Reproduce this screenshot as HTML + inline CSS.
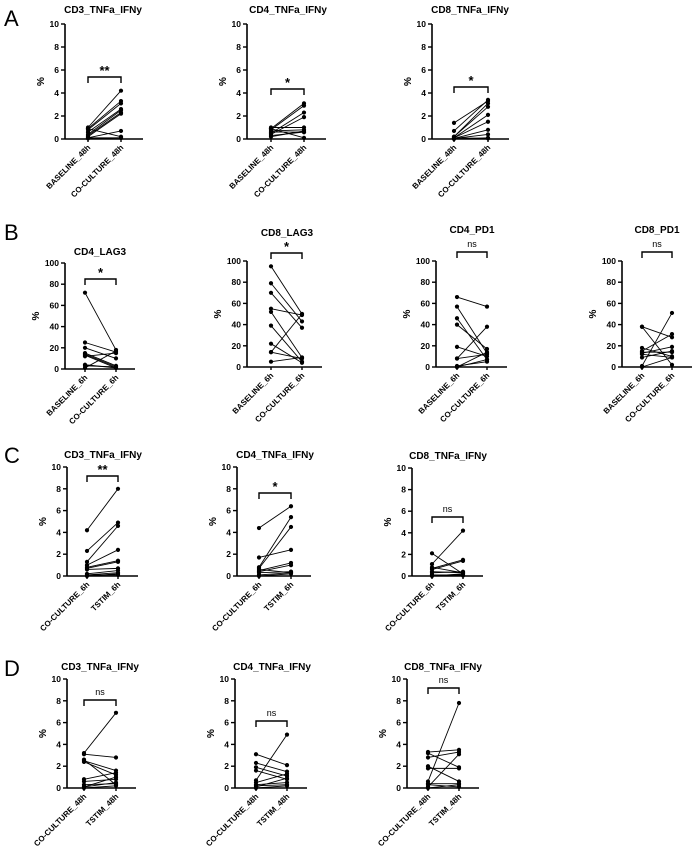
<!DOCTYPE html>
<html><head><meta charset="utf-8"><style>
html,body{margin:0;padding:0;background:#fff;}
svg{display:block;font-family:"Liberation Sans",Arial,sans-serif;}
.t{font-weight:bold;font-size:10px;}
.tk{font-weight:bold;font-size:8.5px;}
.yt{font-weight:bold;font-size:10px;}
.xl{font-weight:bold;font-size:8px;}
.lt{font-size:22px;}
</style></head><body>
<svg id="fig" width="694" height="850" viewBox="0 0 694 850"></svg>
<script>
const a1Before=[1.0,0.9,0.8,0.6,0.4,0.3,0.2,0.1,0.1,0.9,0.05];
const a1After=[4.2,3.3,3.1,2.6,2.5,2.3,2.2,0.7,0.1,0.2,0.1];
const a2Before=[0.9,0.8,0.5,0.4,1.0,0.7,0.3,0.2,0.9,0.6];
const a2After=[3.1,2.9,2.3,1.9,1.0,0.8,0.6,0.7,0.1,0.6];
const a3Before=[1.4,0.7,0.2,0.2,0.1,0.1,0.05,0.05,0,0.1];
const a3After=[3.3,3.4,3.1,2.8,2.1,1.5,0.8,0.4,0.1,0.05];
const b1Before=[72,25,20,15,14,13,12,4,3,1];
const b1After=[18,16,10,3,2,1,15,1,2,17];
const b2Before=[95,79,70,55,52,39,22,14,14,5];
const b2After=[50,43,37,49,9,5,4,50,8,9];
const b3Before=[66,57,46,40,19,8,8,0,1,0];
const b3After=[57,13,7,17,10,38,12,14,5,7];
const b4Before=[38,38,18,15,14,13,12,9,1,0];
const b4After=[28,2,10,31,14,19,9,15,51,9];
const c1Before=[4.2,2.3,1.3,1.0,0.8,0.7,0.6,0.1,0.1,0.2,0];
const c1After=[8.0,4.9,4.6,2.4,1.4,1.3,0.7,0.3,0.1,0.5,0.2];
const c2Before=[4.4,1.7,0.8,0.7,0.5,0.4,0.3,0.1,0,0.6];
const c2After=[6.4,2.4,5.4,4.5,1.2,1.0,0.4,0.3,0.2,0.3];
const c3Before=[2.1,1.1,0.7,0.6,0.4,0.3,0.1,0,0.1,0.8];
const c3After=[0.2,4.2,1.5,1.4,0.3,0.4,0.1,0.2,0.05,0.3];
const d1Before=[3.2,3.1,2.5,2.4,0.8,0.6,0.3,0.1,0,0.1,2.6];
const d1After=[6.9,2.8,1.6,1.2,1.4,0.8,0.4,1.0,0.2,0.5,0.3];
const d2Before=[3.1,2.3,1.9,1.6,0.7,0.5,0.3,0.1,0,0.2];
const d2After=[2.1,1.5,1.1,0.8,4.9,1.3,0.5,0.9,0.2,0.3];
const d3Before=[3.3,3.2,2.8,2.0,1.8,0.6,0.4,0.1,0,0.3];
const d3After=[3.5,1.9,3.3,0.6,1.8,7.8,0.4,3.1,0.3,0.1];
const ticks10=[0,2,4,6,8,10];
const ticks100=[0,20,40,60,80,100];
const sig=["**","*","*","*","*","ns","ns","**","*","ns","ns","ns","ns"];
const titles=["CD3_TNFa_IFNy","CD4_TNFa_IFNy","CD8_TNFa_IFNy","CD4_LAG3","CD8_LAG3","CD4_PD1","CD8_PD1","CD3_TNFa_IFNy","CD4_TNFa_IFNy","CD8_TNFa_IFNy","CD3_TNFa_IFNy","CD4_TNFa_IFNy","CD8_TNFa_IFNy"];
const xlabA=["BASELINE_48h","CO-CULTURE_48h"],xlabB=["BASELINE_6h","CO-CULTURE_6h"],xlabC=["CO-CULTURE_6h","TSTIM_6h"],xlabD=["CO-CULTURE_48h","TSTIM_48h"];

const L=[
 {id:"a1",b:a1Before,a:a1After,tk:ticks10,max:10,ax:65,p1:88,p2:121,end:143,yt:24,y0:139,tx:103,ty:9,br:77,xl:xlabA},
 {id:"a2",b:a2Before,a:a2After,tk:ticks10,max:10,ax:247,p1:271,p2:304,end:326,yt:24,y0:139,tx:288,ty:9,br:89,xl:xlabA},
 {id:"a3",b:a3Before,a:a3After,tk:ticks10,max:10,ax:432,p1:454,p2:488,end:509,yt:24,y0:139,tx:470,ty:9,br:87,xl:xlabA},
 {id:"b1",b:b1Before,a:b1After,tk:ticks100,max:100,ax:65,p1:85,p2:116,end:135,yt:263,y0:369,tx:100,ty:251,br:279,xl:xlabB},
 {id:"b2",b:b2Before,a:b2After,tk:ticks100,max:100,ax:247,p1:271,p2:302,end:322,yt:261,y0:367,tx:287,ty:232,br:253,xl:xlabB},
 {id:"b3",b:b3Before,a:b3After,tk:ticks100,max:100,ax:436,p1:457,p2:487,end:507,yt:261,y0:367,tx:472,ty:229,br:252,xl:xlabB},
 {id:"b4",b:b4Before,a:b4After,tk:ticks100,max:100,ax:622,p1:642,p2:672,end:692,yt:261,y0:367,tx:657,ty:229,br:252,xl:xlabB},
 {id:"c1",b:c1Before,a:c1After,tk:ticks10,max:10,ax:67,p1:87,p2:118,end:138,yt:467,y0:576,tx:103,ty:454,br:476,xl:xlabC},
 {id:"c2",b:c2Before,a:c2After,tk:ticks10,max:10,ax:237,p1:259,p2:291,end:311,yt:467,y0:576,tx:275,ty:454,br:493,xl:xlabC},
 {id:"c3",b:c3Before,a:c3After,tk:ticks10,max:10,ax:412,p1:432,p2:463,end:483,yt:468,y0:576,tx:448,ty:455,br:517,xl:xlabC},
 {id:"d1",b:d1Before,a:d1After,tk:ticks10,max:10,ax:67,p1:84,p2:116,end:136,yt:679,y0:788,tx:100,ty:666,br:700,xl:xlabD},
 {id:"d2",b:d2Before,a:d2After,tk:ticks10,max:10,ax:235,p1:256,p2:287,end:307,yt:679,y0:788,tx:272,ty:666,br:721,xl:xlabD},
 {id:"d3",b:d3Before,a:d3After,tk:ticks10,max:10,ax:407,p1:428,p2:459,end:479,yt:679,y0:788,tx:443,ty:666,br:688,xl:xlabD}
];
const NS="http://www.w3.org/2000/svg";
const svg=document.getElementById("fig");
function mk(tag,at,parent,txt){const e=document.createElementNS(NS,tag);for(const k in at)e.setAttribute(k,at[k]);if(txt!==undefined)e.textContent=txt;(parent||svg).appendChild(e);return e;}

[["A",18],["B",232],["C",455],["D",668]].forEach(([l,y])=>{
  const t=mk("text",{x:4,y:y+8,class:"lt"},svg,l);
  
  
});

L.forEach((p,i)=>{
  const g=mk("g",{});
  
  
  const ys=v=>p.y0-(v/p.max)*(p.y0-p.yt);
  const t=mk("text",{x:p.tx,y:p.ty+4,"text-anchor":"middle",class:"t"},g,titles[i]);
  
  
  const ya=mk("line",{x1:p.ax,y1:p.yt,x2:p.ax,y2:p.y0,stroke:"#000","stroke-width":1.6},g);
  
  
  p.tk.forEach(v=>{
    mk("line",{x1:p.ax-4,y1:ys(v),x2:p.ax,y2:ys(v),stroke:"#000","stroke-width":1.4},g);
    const tl=mk("text",{x:p.ax-6,y:ys(v)+3,"text-anchor":"end",class:"tk"},g,String(v));
    
    
  });
  const yl=mk("text",{x:0,y:0,"text-anchor":"middle",class:"yt",transform:`translate(${p.ax-(p.max===100?26:21)},${(p.yt+p.y0)/2}) rotate(-90)`},g,"%");
  
  
  const xa=mk("line",{x1:p.ax,y1:p.y0,x2:p.end,y2:p.y0,stroke:"#000","stroke-width":1.6},g);
  
  
  [p.p1,p.p2].forEach((x,j)=>{
    mk("line",{x1:x,y1:p.y0,x2:x,y2:p.y0+3,stroke:"#000","stroke-width":1.4},g);
    const xl=mk("text",{x:0,y:0,"text-anchor":"end",class:"xl",transform:`translate(${x+3},${p.y0+9}) rotate(-45)`},g,p.xl[j]);
    
    
  });
  p.b.forEach((v,k)=>{
    const ln=mk("line",{x1:p.p1,y1:ys(v),x2:p.p2,y2:ys(p.a[k]),stroke:"#000","stroke-width":0.9},g);
    
    
    const c1=mk("circle",{cx:p.p1,cy:ys(v),r:2.1,fill:"#000"},g);
    
    
    const c2=mk("circle",{cx:p.p2,cy:ys(p.a[k]),r:2.1,fill:"#000"},g);
    
    
  });
  const br=mk("path",{d:`M${p.p1},${p.br+6}V${p.br}H${p.p2}V${p.br+6}`,fill:"none",stroke:"#000","stroke-width":1.4},g);
  
  
  const isNs=sig[i]==="ns";
  const st=mk("text",{x:(p.p1+p.p2)/2,y:isNs?p.br-5:p.br-2,"text-anchor":"middle","font-size":isNs?"9px":"13px","font-weight":isNs?"normal":"bold"},g,sig[i]);
  
  
});
</script>
</body></html>
